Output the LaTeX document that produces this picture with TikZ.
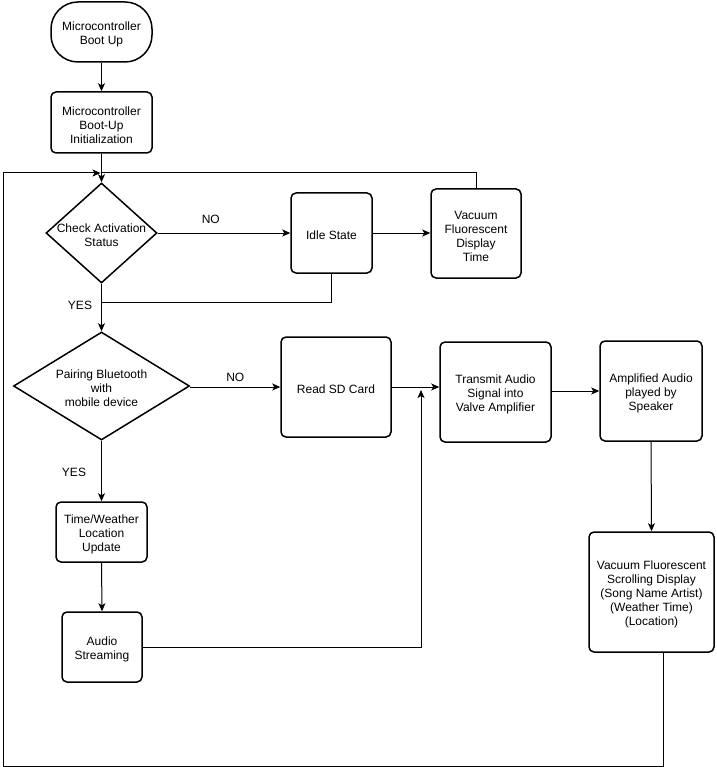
\documentclass[tikz,border=0pt]{standalone}
\usepackage{fontspec}
\setmainfont{Liberation Sans}
\usetikzlibrary{shapes.geometric,arrows.meta}
\begin{document}
\begin{tikzpicture}[x=1pt,y=-1pt,
  txt/.style={font=\fontsize{12}{14}\selectfont, align=center, inner sep=0pt},
  box/.style={draw, line width=1.5pt, rounded corners=5pt, inner sep=0pt},
  term/.style={draw, line width=1.5pt, rounded corners=27pt, inner sep=0pt},
  dia/.style={draw, diamond, line width=1.5pt, inner sep=0pt},
  conn/.style={line width=1pt},
  arr/.style={conn, -{Stealth[length=8pt,width=7pt,inset=2pt]}},
  lbl/.style={font=\fontsize{12}{14}\selectfont, inner sep=0pt},
  in/.style={label={[txt, yshift=-2.5pt]center:#1}}]
\useasboundingbox (0,0) rectangle (716,767);

\node[term, minimum width=101pt, minimum height=60pt, in={Microcontroller\\Boot Up}] (boot) at (101.5,32) {};
\node[box, minimum width=101pt, minimum height=61pt, in={Microcontroller\\Boot-Up\\Initialization}] (init) at (101.5,122.5) {};
\node[dia, minimum width=111pt, minimum height=100pt, in={Check Activation\\Status}] (d1) at (101.5,233) {};
\node[box, minimum width=81pt, minimum height=80pt, in={Idle State}] (idle) at (331.5,233) {};
\node[box, minimum width=90pt, minimum height=89pt, in={Vacuum\\Fluorescent\\Display\\Time}] (vfd) at (476,233.5) {};
\node[dia, minimum width=176pt, minimum height=108pt, in={Pairing Bluetooth\\with\\mobile device}] (d2) at (101.5,386) {};
\node[box, minimum width=110pt, minimum height=100pt, in={Read SD Card}] (sd) at (336,387) {};
\node[box, minimum width=111pt, minimum height=100pt, in={Transmit Audio\\Signal into\\Valve Amplifier}] (tx) at (495.5,392) {};
\node[box, minimum width=102pt, minimum height=100pt, in={Amplified Audio\\played by\\Speaker}] (amp) at (651,391) {};
\node[box, minimum width=91pt, minimum height=60pt, in={Time/Weather\\Location\\Update}] (tw) at (101.5,532) {};
\node[box, minimum width=80pt, minimum height=70pt, in={Audio\\Streaming}] (as) at (102,647) {};
\node[box, minimum width=125pt, minimum height=120pt, in={Vacuum Fluorescent\\Scrolling Display\\(Song Name Artist)\\(Weather Time)\\(Location)}] (vfs) at (651.5,592) {};

\coordinate (top) at (101.5,173);
\coordinate (tl) at (3,173);
\coordinate (bl) at (3,766);
\coordinate (yj) at (101.5,302);
\coordinate (jn) at (421,390);

\draw[arr] (boot) -- (init);
\draw[arr] (init) -- (d1.north);
\draw[conn] (vfd.north) |- (top);
\draw[arr] ([xshift=11.5pt]vfs.south) |- (bl) -- (tl) -- ([xshift=-1pt]top);
\draw[arr] (d1.east) -- (idle.west) node[lbl, pos=0.4, above=9pt] {NO};
\draw[arr] (idle.east) -- (vfd.west |- idle.east);
\draw[conn] (idle.south) |- (yj);
\draw[arr] (d1.south) -- (d2.north);
\node[lbl] (yes1) at (80,305) {YES};
\draw[arr] (d2.east |- sd.west) -- (sd.west) node[lbl, pos=0.5, above=5pt] {NO};
\draw[arr] (sd.east) -- (tx.west |- sd.east);
\draw[arr] (as.east) -| (jn);
\draw[arr] (tx.east |- amp.west) -- (amp.west);
\draw[arr] (amp.south) -- (vfs.north);
\draw[arr] (d2.south) -- (tw.north);
\node[lbl] (yes2) at (74,472) {YES};
\draw[arr] (tw.south) -- (as.north);
\end{tikzpicture}
\end{document}
